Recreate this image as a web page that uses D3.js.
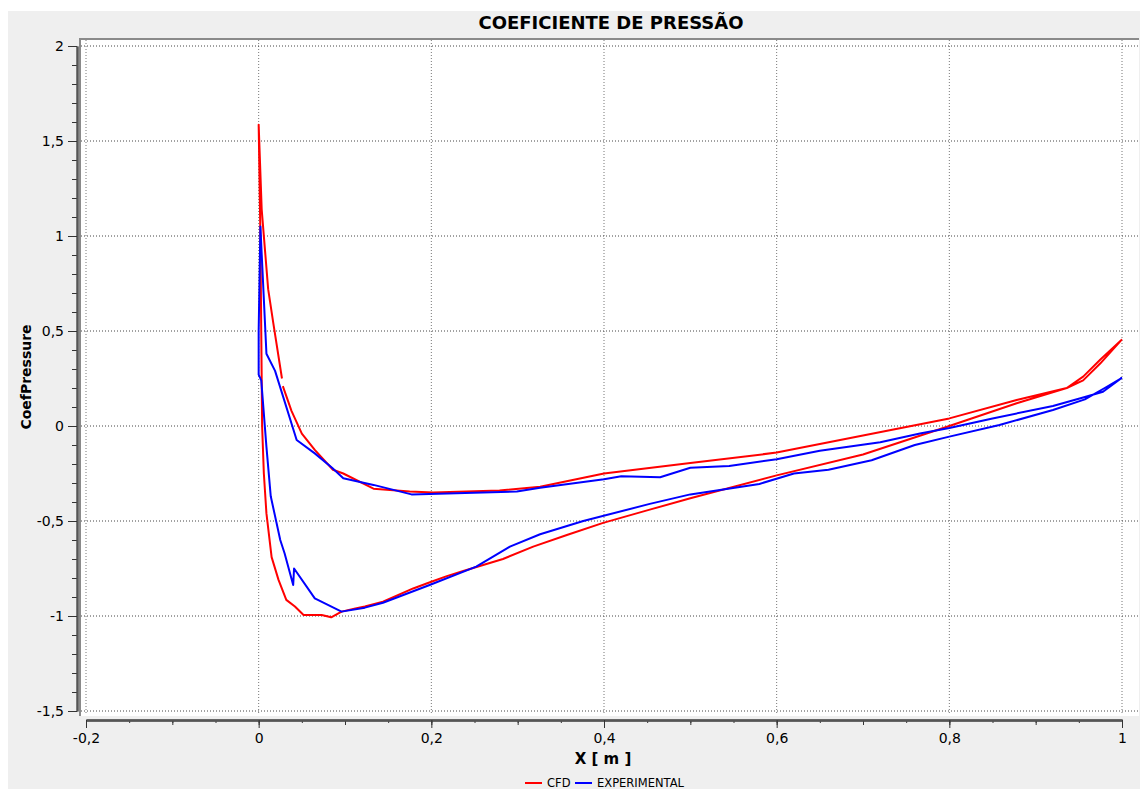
<!DOCTYPE html>
<html>
<head>
<meta charset="utf-8">
<script src="https://cdn.jsdelivr.net/npm/d3@7"></script>
<style>
  body { margin: 0; background: #fff; }
  svg { display: block; }
</style>
</head>
<body>
<div id="chart"></div>
<script>
// CFD curve (upper surface TE -> LE, then lower surface LE -> TE); null = break in the line
const cfdX = [1, 0.975, 0.955, 0.936, 0.878, 0.8, 0.7, 0.6, 0.5, 0.4, 0.326, 0.279, 0.202, 0.175, 0.133, 0.098, 0.086, 0.065, 0.05, 0.038, 0.028,
  null,
  0.027, 0.017, 0.011, 0.0035, 0, 0.002, 0.003, 0.004, 0.006, 0.009, 0.015, 0.023, 0.032, 0.042, 0.052, 0.073, 0.084, 0.096, 0.112, 0.123,
  0.144, 0.179, 0.2, 0.218, 0.237, 0.283, 0.318, 0.357, 0.399, 0.453, 0.5, 0.6, 0.7, 0.8, 0.878, 0.936, 0.955, 0.975, 1];
const cfdCp = [0.456, 0.35, 0.26, 0.2, 0.137, 0.04, -0.05, -0.14, -0.195, -0.25, -0.32, -0.34, -0.35, -0.345, -0.33, -0.25, -0.23, -0.126, -0.04, 0.08, 0.21,
  null,
  0.25, 0.54, 0.72, 1.14, 1.585, 1.0, 0.5, 0.0, -0.25, -0.46, -0.69, -0.81, -0.915, -0.95, -0.995, -0.995, -1.007, -0.977, -0.96, -0.95,
  -0.925, -0.855, -0.82, -0.79, -0.763, -0.70, -0.635, -0.574, -0.51, -0.44, -0.38, -0.26, -0.15, 0.0, 0.12, 0.2, 0.24, 0.33, 0.456];

// Experimental curve
const expX = [1, 0.978, 0.955, 0.92, 0.85, 0.8, 0.766, 0.72, 0.65, 0.6, 0.545, 0.5, 0.465, 0.42, 0.4, 0.326, 0.299, 0.177, 0.133, 0.098, 0.085,
  0.065, 0.044, 0.019, 0.009, 0.002, 0, 0, 0.003, 0.009, 0.014, 0.025, 0.03, 0.04, 0.041, 0.065, 0.096, 0.123, 0.144, 0.198, 0.252,
  0.291, 0.326, 0.376, 0.453, 0.5, 0.58, 0.62, 0.66, 0.71, 0.76, 0.8, 0.858, 0.92, 0.957, 0.98, 1];
const expCp = [0.254, 0.18, 0.15, 0.105, 0.04, -0.01, -0.04, -0.085, -0.13, -0.175, -0.21, -0.22, -0.27, -0.265, -0.28, -0.325, -0.345, -0.36, -0.31, -0.275, -0.22,
  -0.144, -0.074, 0.29, 0.38, 1.05, 0.5, 0.27, 0.24, -0.11, -0.37, -0.6, -0.67, -0.837, -0.75, -0.907, -0.977, -0.956, -0.93, -0.837, -0.74,
  -0.635, -0.57, -0.5, -0.41, -0.36, -0.305, -0.25, -0.23, -0.18, -0.1, -0.056, 0.005, 0.084, 0.14, 0.2, 0.254];

const xMajor = [-0.2, 0, 0.2, 0.4, 0.6, 0.8, 1];
const yMajor = [-1.5, -1, -0.5, 0, 0.5, 1, 1.5, 2];

const width = 1140, height = 789;

const svg = d3.select("#chart").append("svg")
  .attr("width", width)
  .attr("height", height);

// widget background
svg.append("rect")
  .attr("x", 8).attr("y", 11)
  .attr("width", width - 8).attr("height", height - 11)
  .attr("fill", "#efefef");

// plot canvas
svg.append("rect")
  .attr("x", 80).attr("y", 39)
  .attr("width", 1059).attr("height", 677)
  .attr("fill", "#fff");
svg.append("path")
  .attr("d", "M80,716V39H1139")
  .attr("fill", "none")
  .attr("stroke", "#8a8a8a")
  .attr("stroke-width", 2);

const x = d3.scaleLinear().domain([-0.2, 1]).range([86, 1122]);
const y = d3.scaleLinear().domain([-1.5, 2]).range([711, 46]);

const locale = d3.formatLocale({ decimal: ",", thousands: ".", grouping: [3], currency: ["", ""], minus: "-" });
const fmt = locale.format("~g");

// grid
svg.append("g").selectAll("line")
  .data(xMajor)
  .join("line")
  .attr("x1", d => x(d)).attr("x2", d => x(d))
  .attr("y1", 40).attr("y2", 715)
  .attr("stroke", "#777")
  .attr("stroke-dasharray", "1,2");
svg.append("g").selectAll("line")
  .data(yMajor)
  .join("line")
  .attr("x1", 81).attr("x2", 1138)
  .attr("y1", d => y(d)).attr("y2", d => y(d))
  .attr("stroke", "#444")
  .attr("stroke-dasharray", "1,2");

// x axis
const xAxisG = svg.append("g").attr("transform", "translate(0,720)");
xAxisG.append("g")
  .call(d3.axisBottom(x).tickValues(d3.range(-4, 21).map(i => i * 0.05)).tickSize(3).tickSizeOuter(0).tickFormat(""));
xAxisG.append("g")
  .call(d3.axisBottom(x).tickValues(d3.range(-2, 11).map(i => i * 0.1)).tickSize(5).tickSizeOuter(0).tickFormat(""));
xAxisG.append("g")
  .call(d3.axisBottom(x).tickValues(xMajor).tickSize(8).tickSizeOuter(0).tickPadding(5).tickFormat(fmt));
xAxisG.selectAll(".domain").attr("stroke", "#555").attr("stroke-width", 2);
xAxisG.selectAll(".tick line").attr("stroke", "#333");
xAxisG.selectAll("text")
  .attr("fill", "#000")
  .style("font-family", "DejaVu Sans")
  .style("font-size", "14px");

// y axis
const yAxisG = svg.append("g").attr("transform", "translate(77,0)");
yAxisG.append("g")
  .call(d3.axisLeft(y).tickValues(d3.range(-15, 21).map(i => i * 0.1)).tickSize(5).tickSizeOuter(0).tickFormat(""));
yAxisG.append("g")
  .call(d3.axisLeft(y).tickValues(yMajor).tickSize(9).tickSizeOuter(0).tickPadding(4).tickFormat(fmt));
yAxisG.selectAll(".domain").attr("stroke", "#555").attr("stroke-width", 2);
yAxisG.selectAll(".tick line").attr("stroke", "#333");
yAxisG.selectAll("text")
  .attr("fill", "#000")
  .style("font-family", "DejaVu Sans")
  .style("font-size", "14px");

// curves
svg.append("clipPath").attr("id", "clip")
  .append("rect").attr("x", 81).attr("y", 40).attr("width", 1058).attr("height", 676);

const line = d3.line()
  .defined(d => d[0] !== null && d[1] !== null)
  .x(d => x(d[0]))
  .y(d => y(d[1]));

const series = [
  { name: "CFD", color: "#ff0000", pts: d3.zip(cfdX, cfdCp) },
  { name: "EXPERIMENTAL", color: "#0000ff", pts: d3.zip(expX, expCp) }
];

svg.append("g").attr("clip-path", "url(#clip)")
  .selectAll("path")
  .data(series)
  .join("path")
  .attr("d", d => line(d.pts))
  .attr("fill", "none")
  .attr("stroke", d => d.color)
  .attr("stroke-width", 2)
  .attr("stroke-linejoin", "round");

// title and axis labels
svg.append("text")
  .attr("x", 611).attr("y", 29)
  .attr("text-anchor", "middle")
  .style("font-family", "DejaVu Sans")
  .style("font-weight", "bold")
  .style("font-size", "18px")
  .text("COEFICIENTE DE PRESSÃO");

svg.append("text")
  .attr("transform", "translate(31,377) rotate(-90)")
  .attr("text-anchor", "middle")
  .style("font-family", "DejaVu Sans")
  .style("font-weight", "bold")
  .style("font-size", "14px")
  .text("CoefPressure");

svg.append("text")
  .attr("x", 603).attr("y", 764)
  .attr("text-anchor", "middle")
  .style("font-family", "DejaVu Sans")
  .style("font-weight", "bold")
  .style("font-size", "15px")
  .text("X [ m ]");

// legend
const legend = svg.append("g").attr("transform", "translate(525,783)");
const legX = [0, 50];
series.forEach((s, i) => {
  const g = legend.append("g").attr("transform", `translate(${legX[i]},0)`);
  g.append("line")
    .attr("x1", 0).attr("x2", 17)
    .attr("y1", 0).attr("y2", 0)
    .attr("stroke", s.color)
    .attr("stroke-width", 2);
  g.append("text")
    .attr("x", 22).attr("y", 4)
    .style("font-family", "DejaVu Sans")
    .style("font-size", "11.5px")
    .text(s.name);
});
</script>
</body>
</html>
